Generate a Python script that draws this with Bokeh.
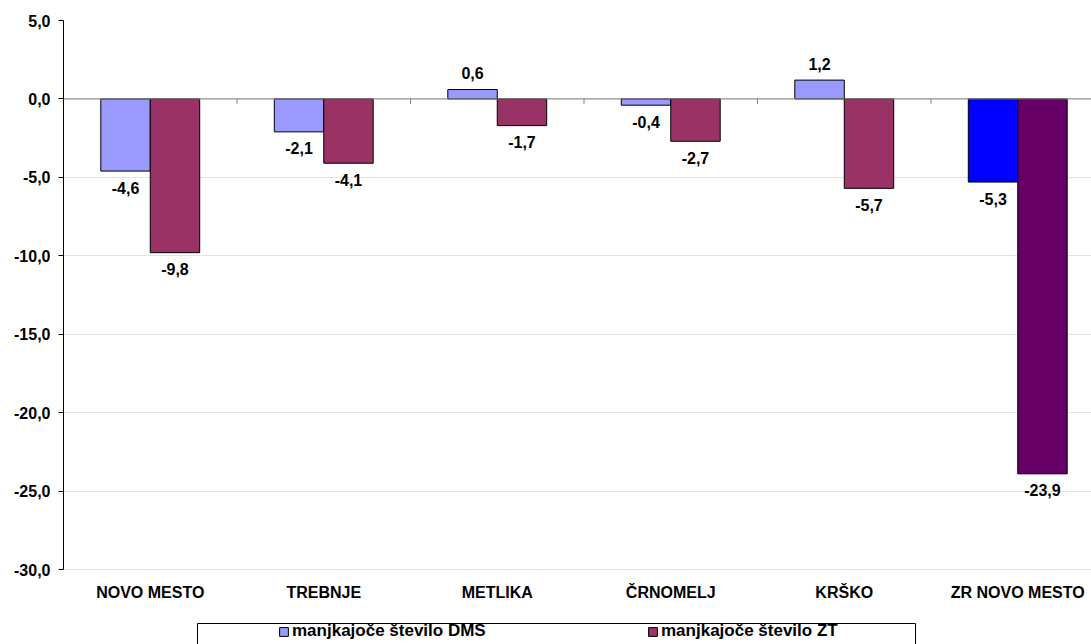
from bokeh.plotting import figure
from bokeh.models import (ColumnDataSource, Range1d, FixedTicker, Span, Legend,
                          LegendItem, BoxAnnotation)
from bokeh.core.properties import value
from bokeh.embed import file_html
from bokeh.resources import INLINE

# ---------------- data ----------------
categories = ["NOVO MESTO", "TREBNJE", "METLIKA", "ČRNOMELJ", "KRŠKO", "ZR NOVO MESTO"]
dms_values = [-4.6, -2.1, 0.6, -0.4, 1.2, -5.3]
zt_values = [-9.8, -4.1, -1.7, -2.7, -5.7, -23.9]
series_names = ["manjkajoče število DMS", "manjkajoče število ZT"]
y_ticks = [5, 0, -5, -10, -15, -20, -25, -30]
y_tick_labels = ["5,0", "0,0", "-5,0", "-10,0", "-15,0", "-20,0", "-25,0", "-30,0"]

# ---------------- styles / layout ----------------
dms_colors = ["#9999FF"] * 5 + ["#0000FF"]
zt_colors = ["#993366"] * 5 + ["#660066"]
FONT = "Liberation Sans"
FS = "16px"
LEGEND_FS = "17px"
BAR_W = 0.285

W, H = 1091, 644
LEFT, TOP = 63, 20
CAT_PX = 173.5                     # pixels per category
Y_MAX, Y_MIN = max(y_ticks), min(y_ticks)
PX_PER_UNIT = 549 / (Y_MAX - Y_MIN)
frame_w = W - LEFT
frame_h = H - TOP
x_end = frame_w / CAT_PX
y_start = Y_MAX - frame_h / PX_PER_UNIT


def px2x(px):
    return (px - LEFT) / CAT_PX


def px2y(py):
    return Y_MAX - (py - TOP) / PX_PER_UNIT


LABEL_OFF = 16.5 / PX_PER_UNIT

n = len(categories)
centers = [i + 0.5 for i in range(n)]
x_dms = [c - BAR_W / 2 for c in centers]
x_zt = [c + BAR_W / 2 for c in centers]


def fmt(v):
    return f"{v:.1f}".replace(".", ",")


def label_y(v):
    return v + LABEL_OFF if v > 0 else v - LABEL_OFF


src_dms = ColumnDataSource(dict(x=x_dms, top=dms_values, color=dms_colors,
                                ly=[label_y(v) for v in dms_values],
                                txt=[fmt(v) for v in dms_values]))
src_zt = ColumnDataSource(dict(x=x_zt, top=zt_values, color=zt_colors,
                               ly=[label_y(v) for v in zt_values],
                               txt=[fmt(v) for v in zt_values]))
src_cat = ColumnDataSource(dict(x=centers, y=[px2y(592)] * n, txt=categories))

p = figure(width=W, height=H, output_backend="svg", toolbar_location=None,
           x_range=Range1d(0, x_end), y_range=Range1d(y_start, Y_MAX),
           x_axis_location=None,
           min_border_left=LEFT, min_border_right=0, min_border_top=TOP,
           min_border_bottom=0)
p.outline_line_color = None
p.background_fill_color = "white"
p.border_fill_color = "white"

# grid
p.xgrid.grid_line_color = None
p.ygrid.grid_line_color = "#e3e3e3"
p.ygrid.ticker = FixedTicker(ticks=y_ticks)

# y axis
p.yaxis.ticker = FixedTicker(ticks=y_ticks)
p.yaxis.bounds = (Y_MIN, Y_MAX)
p.yaxis.major_label_overrides = {t: l for t, l in zip(y_ticks, y_tick_labels)}
p.yaxis.axis_line_color = "black"
p.yaxis.major_tick_line_color = "black"
p.yaxis.major_tick_out = 5
p.yaxis.major_tick_in = 0
p.yaxis.minor_tick_line_color = None
p.yaxis.major_label_standoff = 8
p.yaxis.major_label_text_font = FONT
p.yaxis.major_label_text_font_style = "bold"
p.yaxis.major_label_text_font_size = FS
p.yaxis.major_label_text_color = "black"

# bars
r_dms = p.vbar(x="x", top="top", bottom=0, width=BAR_W, source=src_dms,
               fill_color="color", line_color="black", line_width=1)
r_zt = p.vbar(x="x", top="top", bottom=0, width=BAR_W, source=src_zt,
              fill_color="color", line_color="black", line_width=1)

# zero line with category boundary ticks
p.add_layout(Span(location=0, dimension="width", line_color="#808080", line_width=1))
bounds = list(range(1, n))
p.segment(x0=bounds, x1=bounds, y0=[0] * len(bounds),
          y1=[-5 / PX_PER_UNIT] * len(bounds), line_color="#808080", line_width=1)

# value labels
for src in (src_dms, src_zt):
    p.text(x="x", y="ly", text="txt", source=src, text_align="center",
           text_baseline="middle", text_font=value(FONT), text_font_style="bold",
           text_font_size=FS, text_color="black")

# category labels
p.text(x="x", y="y", text="txt", source=src_cat, text_align="center",
       text_baseline="middle", text_font=value(FONT), text_font_style="bold",
       text_font_size=FS, text_color="black")

# legend box
p.add_layout(BoxAnnotation(left=px2x(197), right=px2x(915), top=px2y(623),
                           bottom=px2y(700), fill_alpha=0, fill_color=None,
                           line_color="black", line_width=1, line_alpha=1))

# legend
legend = Legend(items=[LegendItem(label=series_names[0], renderers=[r_dms], index=0),
                       LegendItem(label=series_names[1], renderers=[r_zt], index=0)],
                location=(278 - LEFT, 3), orientation="horizontal",
                glyph_width=11, glyph_height=11, label_standoff=3,
                label_width=196, label_height=11, spacing=159, padding=0, margin=0,
                border_line_color=None, background_fill_alpha=0,
                label_text_font=FONT, label_text_font_style="bold",
                label_text_font_size=LEGEND_FS, label_text_color="black")
p.add_layout(legend, "center")

open("out.html", "w").write(file_html(p, INLINE))
